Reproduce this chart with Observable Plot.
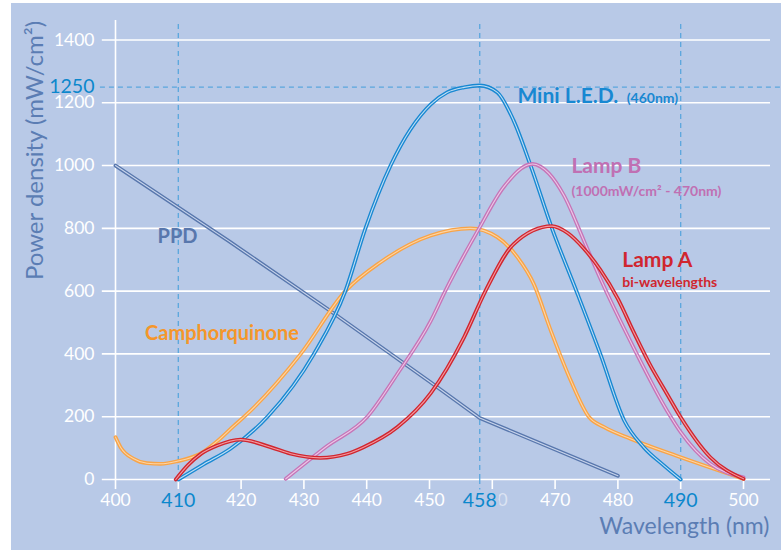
<!DOCTYPE html>
<html><head><meta charset="utf-8">
<script src="https://cdn.jsdelivr.net/npm/d3@7"></script>
<script src="https://cdn.jsdelivr.net/npm/@observablehq/plot@0.6"></script>
<style>
body{margin:0;background:#fff;}
#wrap{position:relative;width:781px;height:550px;overflow:hidden;}
#bg{position:absolute;left:11px;top:3px;right:0;bottom:0;background:#b8c9e7;}
#wrap svg{position:absolute;left:0;top:0;}
</style></head><body><div id="wrap"><div id="bg"></div></div>
<script>
// ---- data ----
const ppdNm = [400, 418, 434, 450, 458, 480];
const ppdVal = [1000, 760, 540, 312, 196, 12];

const campNm = [400, 400.8, 402.9, 405, 407.2, 409.8, 413.5, 416.2, 418.8, 420.5, 429.5, 436.6, 442.2, 450.2, 456.5, 460.8, 464, 466.6, 469.3, 472.5, 475.4, 477.8, 482, 490, 500];
const campVal = [135, 103, 66, 52, 50, 58, 82, 122, 170, 200, 400, 600, 692, 777, 800, 772, 708, 623, 475, 315, 199, 167, 130, 71, 2];

const ledNm = [410, 414, 418.3, 424.2, 431.6, 436.6, 439.8, 443.8, 450.2, 452.8, 455.5, 458, 460.8, 463.4, 466.1, 469.5, 473.5, 477.2, 481, 484.1, 487.3, 490];
const ledVal = [0, 48, 98, 200, 400, 600, 800, 1000, 1195, 1233, 1249, 1255, 1233, 1143, 1000, 800, 595, 400, 188, 103, 45, 0];

const lampBNm = [427.1, 433.6, 440.1, 444.9, 450.2, 452.5, 457.9, 461.8, 466.4, 469, 471.4, 474.6, 477.2, 482.5, 487.8, 490, 494.7, 500];
const lampBVal = [2, 105, 200, 337, 505, 600, 800, 931, 1005, 975, 905, 760, 640, 420, 220, 151, 50, 7];

const lampANm = [409.6, 411.5, 413.5, 416.2, 419.9, 424.7, 427.9, 432.6, 436.9, 439.5, 444.9, 450.2, 455.5, 458.9, 463.4, 469.5, 472, 474.6, 477.2, 480, 482.5, 485, 487.8, 490, 494.7, 500];
const lampAVal = [0, 45, 80, 108, 127, 103, 82, 69, 82, 103, 167, 275, 453, 600, 750, 807, 785, 735, 668, 575, 470, 370, 273, 198, 71, 2];

const xTickValues = [400, 410, 420, 430, 440, 450, 460, 470, 480, 490, 500];
const xWhiteLabels = [400, 420, 430, 440, 450, 470, 480, 500];
const xFadedLabels = [460];
const xBlueLabels = [410, 458, 490];
const yTickValues = [0, 200, 400, 600, 800, 1000, 1200, 1400];
const yBlueLabels = [1250];
const markerNm = [410, 458, 490];
const markerPower = [1250];

// ---- build ----
const rows = (nm, val) => nm.map((x, i) => ({nm: x, val: val[i]}));
const series = [
  {rows: rows(ppdNm, ppdVal), color: "#5877ad", inner: "#c9d5ec", curve: "linear"},
  {rows: rows(campNm, campVal), color: "#f8a448", inner: "#fdd5a6", curve: "monotone-x"},
  {rows: rows(ledNm, ledVal), color: "#1888d2", inner: "#c2def4", curve: "monotone-x"},
  {rows: rows(lampBNm, lampBVal), color: "#c575b8", inner: "#ecc7e6", curve: "monotone-x"},
  {rows: rows(lampANm, lampAVal), color: "#d0262f", inner: "#f29aa2", curve: "monotone-x"}
];

const BG = "#b8c9e7";
const FONT = "Lato, 'Open Sans', sans-serif";
const TITLE = "#5b7db4";
const BLUE = "#0b87cc";
const DASH = "#5aa6de";

const lineMarks = series.flatMap(s => [
  Plot.line(s.rows, {x: "nm", y: "val", stroke: s.color, strokeWidth: 3.8, curve: s.curve, strokeLinejoin: "round"}),
  Plot.line(s.rows, {x: "nm", y: "val", stroke: s.inner, strokeWidth: 1.1, curve: s.curve, strokeLinejoin: "round"})
]);

const chart = Plot.plot({
  width: 781, height: 550,
  marginLeft: 115, marginRight: 38, marginTop: 20, marginBottom: 71,
  style: {background: "transparent", fontFamily: FONT, overflow: "visible"},
  x: {domain: [400, 500], axis: null},
  y: {domain: [0, 1462], axis: null},
  marks: [
    // grid
    Plot.ruleY(yTickValues, {x1: 397.9, x2: 504.3, stroke: "white", strokeWidth: 1.6}),
    Plot.ruleX([400], {y1: 0, y2: 1462, stroke: "white", strokeWidth: 1.6}),
    Plot.ruleX(xTickValues, {y1: 0, y2: -32, stroke: "white", strokeWidth: 1.6}),
    // dashed markers
    Plot.ruleX(markerNm, {y1: 0, y2: 1462, stroke: DASH, strokeWidth: 1.3, strokeDasharray: "5,4"}),
    Plot.ruleX([458], {y1: 0, y2: -35, stroke: DASH, strokeWidth: 1.3, strokeDasharray: "5,4"}),
    Plot.ruleY(markerPower, {x1: 397.6, x2: 510.5, stroke: DASH, strokeWidth: 1.3, strokeDasharray: "5,4"}),
    // curves
    ...lineMarks,
    // tick labels
    Plot.text(yTickValues, {x: 400, y: d => d, text: d => String(d), dx: -21, textAnchor: "end", lineAnchor: "middle", fill: "white", fontSize: 17.5}),
    Plot.text(yBlueLabels, {x: 400, y: d => d, text: d => String(d), dx: -21, textAnchor: "end", lineAnchor: "middle", fill: BLUE, fontSize: 19.5}),
    Plot.text(xWhiteLabels, {x: d => d, y: 0, text: d => String(d), dy: 21, lineAnchor: "middle", fill: "white", fontSize: 17.5}),
    Plot.text(xFadedLabels, {x: d => d, y: 0, text: d => String(d), dy: 21, lineAnchor: "middle", fill: "white", fillOpacity: 0.5, fontSize: 17.5}),
    Plot.text(xBlueLabels, {x: d => d, y: 0, text: d => String(d), dy: 21, lineAnchor: "middle", fill: BLUE, fontSize: 19.5, stroke: BG, strokeWidth: 7, strokeLinejoin: "round"}),
    // axis titles
    Plot.text(["Power density (mW/cm²)"], {x: 400, y: 1048, dx: -73, rotate: -90, textAnchor: "middle", lineAnchor: "bottom", fill: TITLE, fontSize: 24}),
    Plot.text(["Wavelength (nm)"], {x: 500, y: 0, dx: 26, dy: 54, textAnchor: "end", lineAnchor: "bottom", fill: TITLE, fontSize: 23}),
    // series labels
    Plot.text(["PPD"], {x: 406.7, y: 752, textAnchor: "start", lineAnchor: "bottom", fill: "#5877ad", fontSize: 20, fontWeight: "bold"}),
    Plot.text(["Camphorquinone"], {x: 404.7, y: 443, textAnchor: "start", lineAnchor: "bottom", fill: "#f5962a", fontSize: 20, fontWeight: "bold"}),
    Plot.text(["Mini L.E.D."], {x: 464.0, y: 1200, textAnchor: "start", lineAnchor: "bottom", fill: "#1888d2", fontSize: 21, fontWeight: "bold"}),
    Plot.text(["(460nm)"], {x: 481.4, y: 1200, textAnchor: "start", lineAnchor: "bottom", fill: "#1888d2", fontSize: 14, fontWeight: "bold"}),
    Plot.text(["Lamp B"], {x: 472.6, y: 975, textAnchor: "start", lineAnchor: "bottom", fill: "#c070b3", fontSize: 21, fontWeight: "bold"}),
    Plot.text(["(1000mW/cm² - 470nm)"], {x: 472.6, y: 904, textAnchor: "start", lineAnchor: "bottom", fill: "#c070b3", fontSize: 14, fontWeight: "bold"}),
    Plot.text(["Lamp A"], {x: 480.7, y: 676, textAnchor: "start", lineAnchor: "bottom", fill: "#d0262f", fontSize: 21, fontWeight: "bold"}),
    Plot.text(["bi-wavelengths"], {x: 480.7, y: 612, textAnchor: "start", lineAnchor: "bottom", fill: "#d0262f", fontSize: 14, fontWeight: "bold"})
  ]
});
document.getElementById("wrap").appendChild(chart);
</script>
</body></html>
